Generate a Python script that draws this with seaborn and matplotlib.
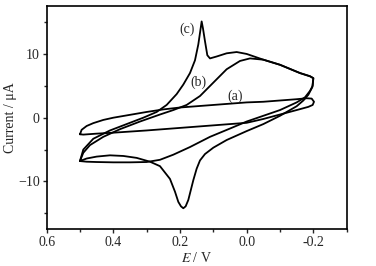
import numpy as np
import pandas as pd
import matplotlib
matplotlib.use("Agg")
import matplotlib.pyplot as plt
import seaborn as sns
from matplotlib.ticker import MultipleLocator

# curve (a): closed loop, potential (V) and current (uA)
E_a = [0.50, 0.495, 0.48, 0.46, 0.43, 0.40, 0.35, 0.30, 0.25, 0.20, 0.15, 0.10, 0.05, 0.00,
       -0.05, -0.10, -0.15, -0.18, -0.195, -0.202, -0.198, -0.185, -0.15, -0.10, -0.05, 0.00,
       0.10, 0.20, 0.30, 0.40, 0.45, 0.49, 0.50]
I_a = [-2.6, -1.9, -1.3, -0.85, -0.35, 0.0, 0.45, 0.9, 1.3, 1.6, 1.8, 2.0, 2.2, 2.4,
       2.5, 2.7, 2.9, 3.05, 3.0, 2.5, 2.0, 1.7, 1.2, 0.5, -0.2, -0.8,
       -1.2, -1.6, -2.0, -2.35, -2.5, -2.65, -2.6]

# curve (b)
E_b = [0.50, 0.49, 0.47, 0.43, 0.38, 0.32, 0.26, 0.22, 0.18, 0.14, 0.10, 0.06, 0.02, -0.01,
       -0.05, -0.10, -0.16, -0.19, -0.20, -0.198, -0.19, -0.175, -0.15, -0.10, -0.05, 0.00,
       0.05, 0.11, 0.17, 0.22, 0.26, 0.30, 0.35, 0.40, 0.45, 0.48, 0.50]
I_b = [-6.8, -5.5, -4.3, -3.0, -1.8, -0.6, 0.5, 1.2, 2.0, 3.4, 5.5, 7.6, 8.9, 9.3,
       9.1, 8.3, 7.0, 6.5, 6.2, 5.0, 4.2, 3.2, 2.4, 1.2, 0.3, -0.6,
       -1.7, -3.0, -4.6, -5.8, -6.6, -6.95, -7.0, -7.0, -6.95, -6.9, -6.8]

# curve (c)
E_c = [0.50, 0.49, 0.46, 0.41, 0.36, 0.31, 0.27, 0.24, 0.21, 0.19, 0.17, 0.155, 0.145, 0.138,
       0.135, 0.131, 0.125, 0.118, 0.11, 0.09, 0.06, 0.03, 0.00, -0.05, -0.10, -0.16, -0.19,
       -0.20, -0.197, -0.185, -0.17, -0.15, -0.10, -0.05, 0.00, 0.06, 0.10, 0.125, 0.14, 0.15,
       0.16, 0.175, 0.183, 0.19, 0.197, 0.205, 0.215, 0.23, 0.26, 0.29, 0.33, 0.37, 0.41,
       0.45, 0.48, 0.50]
I_c = [-6.8, -5.0, -3.3, -2.0, -1.0, 0.0, 0.9, 2.0, 3.7, 5.2, 7.0, 9.0, 11.5, 14.0,
       15.1, 14.0, 12.0, 9.8, 9.3, 9.6, 10.1, 10.3, 10.0, 9.1, 8.3, 7.0, 6.5,
       6.2, 4.8, 3.6, 2.7, 1.8, 0.3, -1.0, -2.1, -3.5, -4.7, -5.7, -6.7, -8.0,
       -9.8, -12.9, -13.9, -14.2, -13.9, -13.2, -11.6, -9.6, -7.6, -6.9, -6.3, -6.0, -5.9,
       -6.1, -6.4, -6.8]

labels = ["(a)", "(b)", "(c)"]
label_pos = [(0.035, 3.3), (0.145, 5.6), (0.18, 13.8)]

df = pd.concat([
    pd.DataFrame({"E": E_a, "I": I_a, "curve": "(a)"}),
    pd.DataFrame({"E": E_b, "I": I_b, "curve": "(b)"}),
    pd.DataFrame({"E": E_c, "I": I_c, "curve": "(c)"}),
], ignore_index=True)

sns.set_style("ticks")
plt.rcParams["font.family"] = ["Liberation Serif", "DejaVu Serif"]
plt.rcParams["mathtext.fontset"] = "stix"

fig = plt.figure(figsize=(3.76, 2.66), dpi=100)
ax = fig.add_axes([0.124, 0.138, 0.798, 0.839])

for name in labels:
    sub = df[df["curve"] == name]
    sns.lineplot(data=sub, x="E", y="I", sort=False, estimator=None, color="black",
                 linewidth=1.3, ax=ax, legend=False)

for txt, (x, y) in zip(labels, label_pos):
    ax.text(x, y, txt, fontsize=10, ha="center", va="center")

ax.set_xlim(0.6, -0.3)
ax.set_ylim(-17.5, 17.5)
ax.xaxis.set_minor_locator(MultipleLocator(0.1))
ax.yaxis.set_major_locator(MultipleLocator(10))
ax.yaxis.set_minor_locator(MultipleLocator(5))
ax.set_xticks([0.6, 0.4, 0.2, 0.0, -0.2])
ax.set_xticklabels(["0.6", "0.4", "0.2", "0.0", "-0.2"])
ax.tick_params(which="major", length=3, width=1, labelsize=10, direction="out", pad=2)
ax.tick_params(which="minor", length=2, width=1, direction="out")

ax.set_xlabel("$E$ / V", fontsize=10, labelpad=1)
ax.set_ylabel("Current / μA", fontsize=10, labelpad=1)

for s in ax.spines.values():
    s.set_linewidth(1.2)
    s.set_color("black")

plt.savefig("out.png", dpi=100)
